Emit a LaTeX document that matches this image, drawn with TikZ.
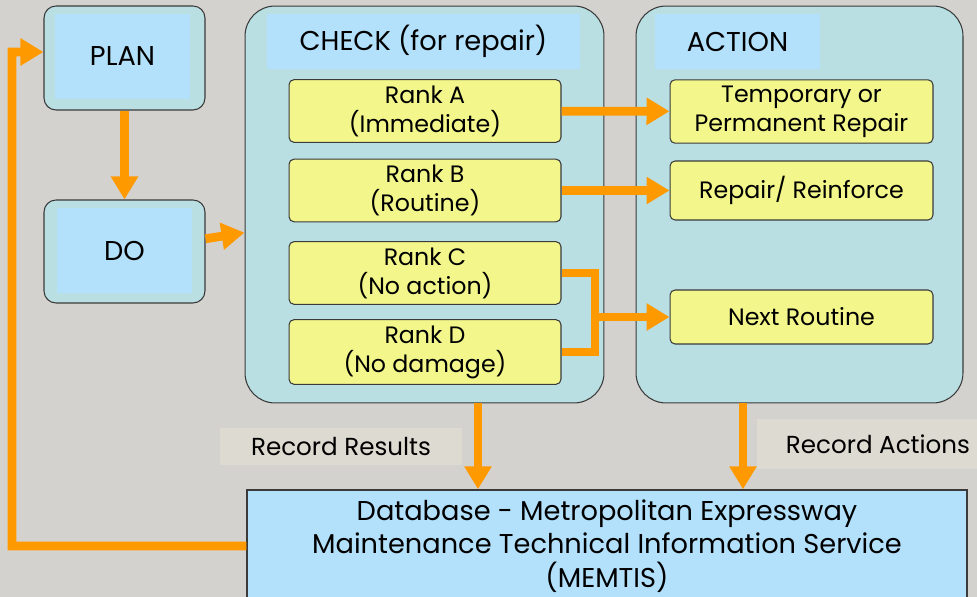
\documentclass[tikz,border=0pt]{standalone}
\usepackage{fontspec}
\setmainfont{Poppins}
\usetikzlibrary{arrows.meta,positioning}
\definecolor{bggray}{HTML}{D4D2CF}
\definecolor{outerteal}{HTML}{BADFE2}
\definecolor{innerblue}{HTML}{B3E0FA}
\definecolor{rankyellow}{HTML}{F3F78B}
\definecolor{flow}{HTML}{FF9900}
\definecolor{labelbg}{HTML}{DDDAD1}
\definecolor{edge}{HTML}{3A3A3A}

\begin{document}
\begin{tikzpicture}[x=0.02cm,y=-0.02cm,
    outer/.style={draw=edge,line width=0.6pt,fill=outerteal,rounded corners=0.24cm},
    panel/.style={draw=edge,line width=0.6pt,fill=outerteal,rounded corners=0.6cm},
    inner/.style={fill=innerblue,font=\fontsize{15.5}{18}\selectfont},
    rankbox/.style={draw=edge,line width=0.6pt,fill=rankyellow,rounded corners=0.1cm,
      align=center,font=\fontsize{13.5}{16.5}\selectfont},
    tag/.style={fill=labelbg,font=\fontsize{14}{17}\selectfont},
    arr/.style={draw=flow,line width=5pt,-{Triangle[width=0.52cm,length=0.46cm]}},
    flowline/.style={draw=flow,line width=5pt}]
  \useasboundingbox (0,0) rectangle (977,597);
  \fill[bggray] (0,0) rectangle (977,597);

  % plan and do
  \node[outer,minimum width=3.22cm,minimum height=2.08cm] (plan) at (124.5,58) {};
  \node[inner,minimum width=2.7cm,minimum height=1.7cm] (plant) at (122.5,56.5) {\raisebox{-2pt}{PLAN}};
  \node[outer,minimum width=3.22cm,minimum height=2.06cm] (do) at (124.5,251.5) {};
  \node[inner,minimum width=2.7cm,minimum height=1.7cm] (dot) at (124.5,250.5) {\raisebox{-2pt}{DO}};

  % check panel
  \node[panel,minimum width=7.18cm,minimum height=7.94cm] (check) at (424.5,204.5) {};
  \node[inner,minimum width=6.26cm,minimum height=1.1cm] (checkt) at (423.5,41.5) {CHECK (for repair)};
  \node[rankbox,minimum width=5.44cm,minimum height=1.2cm] (ranka) at (425,111) {Rank A\\(Immediate)};
  \node[rankbox,minimum width=5.44cm,minimum height=1.18cm] (rankb) at (425,190.5) {Rank B\\(Routine)};
  \node[rankbox,minimum width=5.44cm,minimum height=1.08cm] (rankc) at (425,273) {Rank C\\(No action)};
  \node[rankbox,minimum width=5.44cm,minimum height=1.08cm] (rankd) at (425,352) {Rank D\\(No damage)};

  % action panel
  \node[panel,minimum width=6.54cm,minimum height=7.94cm] (action) at (799.5,204.5) {};
  \node[inner,minimum width=3.3cm,minimum height=1.1cm] (actiont) at (737.5,41.5) {ACTION};
  \node[rankbox,minimum width=5.26cm,minimum height=1.18cm] (repair) at (801.5,111.5) {Temporary or\\Permanent Repair};
  \node[rankbox,minimum width=5.26cm,minimum height=1.18cm] (reinf) at (801.5,190.5) {Repair/ Reinforce};
  \node[rankbox,minimum width=5.26cm,minimum height=1.08cm] (nextr) at (801.5,317) {Next Routine};

  % database
  \node[draw=edge,line width=0.8pt,fill=innerblue,minimum width=14.4cm,minimum height=2.24cm,
    align=center,font=\fontsize{15.5}{19}\selectfont] (db) at (607,546)
    {Database - Metropolitan Expressway\\Maintenance Technical Information Service\\(MEMTIS)};

  % record labels
  \node[tag,minimum width=4.84cm,minimum height=0.74cm] (recres) at (341,446.5) {Record Results};
  \node[tag,minimum width=4.86cm,minimum height=1.0cm] (recact) at (878,444) {Record Actions};

  % flow
  \draw[arr] (plan) -- (do);
  \draw[arr] (do) -- (check);
  \draw[arr] (ranka) -- (repair);
  \draw[arr] (rankb) -- (reinf);
  \coordinate (merge) at (595,317);
  \draw[flowline] (rankc.east) -| (merge) |- (rankd.east);
  \draw[arr] (merge) -- (nextr.west);
  \coordinate (chk) at ([xshift=1.07cm]check.south);
  \coordinate (act) at ([xshift=-1.13cm]action.south);
  \draw[arr] (chk) -- (chk |- db.north);
  \draw[arr] (act) -- (act |- db.north);
  \draw[arr] (db.west) -| (12,52) -- ([yshift=0.12cm]plan.west);
\end{tikzpicture}
\end{document}
